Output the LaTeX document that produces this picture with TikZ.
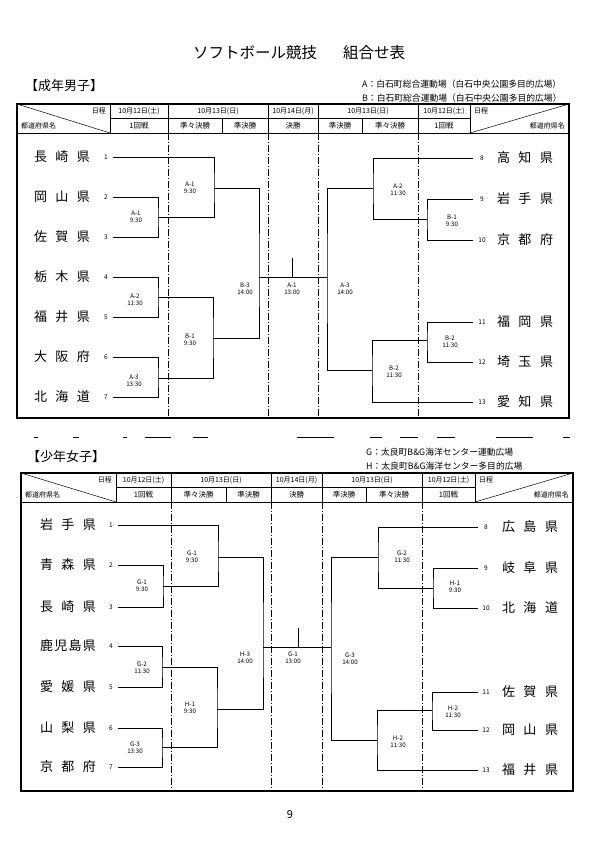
\documentclass[tikz,border=0pt]{standalone}
\usepackage{fontspec}
\setmainfont{Noto Sans CJK JP}
\usetikzlibrary{positioning}
\newcommand\kenmei[1]{\makebox[56pt][s]{#1}}
\begin{document}
\begin{tikzpicture}[x=1pt,y=-1pt,
  team/.style={inner sep=0pt,font=\fontsize{13}{13}\selectfont},
  num/.style={inner sep=0pt,font=\fontsize{6.5}{6.5}\selectfont},
  game/.style={inner sep=0pt,align=center,font=\fontsize{6.2}{7.4}\selectfont},
  head/.style={inner sep=0pt,font=\fontsize{7}{7}\selectfont},
  place/.style={inner sep=0pt,anchor=west,font=\fontsize{8.8}{8.8}\selectfont},
  wire/.style={line width=0.8pt},
  frame/.style={line width=1.1pt},
  sep/.style={line width=0.5pt,dash pattern=on 7pt off 2pt on 1pt off 2pt}
]
\useasboundingbox[fill=white] (0,0) rectangle (595,842);

\node[inner sep=0pt,anchor=west,font=\fontsize{15.5}{15.5}\selectfont] (title) at (193,53)
  {ソフトボール競技\hspace{26pt}組合せ表};

% ---------------- 成年男子 ----------------
\node[inner sep=0pt,anchor=west,font=\fontsize{13}{13}\selectfont] (msec) at (25,86) {【成年男子】};
\node[place] (mA) at (362,84) {A：白石町総合運動場（白石中央公園多目的広場）};
\node[place] (mB) at (362,98) {B：白石町総合運動場（白石中央公園多目的広場）};

\draw[frame] (17,104) rectangle (569,418);
\draw[line width=0.6pt] (17,133) -- (569,133);
\draw[line width=0.6pt] (110,118.5) -- (470,118.5);
\foreach \x in {110,168,268,318,418,470} \draw[line width=0.6pt] (\x,104) -- (\x,133);
\foreach \x in {222,362} \draw[line width=0.6pt] (\x,118.5) -- (\x,133);
\draw[line width=0.5pt] (17,104) -- (110,133);
\draw[line width=0.5pt] (470,133) -- (569,104);
\foreach \x in {168,268,318,418} \draw[sep] (\x,133) -- (\x,418);

\node[head,anchor=east] at (106,111) {日程};
\node[head,anchor=west] at (21,126) {都道府県名};
\node[head,anchor=west] at (474,111) {日程};
\node[head,anchor=east] at (565,126) {都道府県名};
\foreach \x/\d in {139/10月12日(土),218/10月13日(日),293/10月14日(月),368/10月13日(日),444/10月12日(土)}
  \node[head] at (\x,111) {\d};
\foreach \x/\r in {139/1回戦,195/準々決勝,245/準決勝,293/決勝,340/準決勝,390/準々決勝,444/1回戦}
  \node[head,font=\fontsize{7.5}{7.5}\selectfont] at (\x,126) {\r};

\foreach \i/\ken/\yy in {1/長\hfill 崎\hfill 県/157,2/岡\hfill 山\hfill 県/197,3/佐\hfill 賀\hfill 県/237,
    4/栃\hfill 木\hfill 県/277,5/福\hfill 井\hfill 県/317,6/大\hfill 阪\hfill 府/357,7/北\hfill 海\hfill 道/397}{
  \node[team] (mt\i) at (62,\yy) {\kenmei{\ken}};
  \node[num] (mn\i) at (106,\yy) {\i};
  \coordinate (mL\i) at (113,\yy);
}
\foreach \i/\ken/\yy in {8/高\hfill 知\hfill 県/158,9/岩\hfill 手\hfill 県/199,10/京\hfill 都\hfill 府/240,
    11/福\hfill 岡\hfill 県/322,12/埼\hfill 玉\hfill 県/362,13/愛\hfill 知\hfill 県/402}{
  \node[team] (mt\i) at (525,\yy) {\kenmei{\ken}};
  \node[num] (mn\i) at (482,\yy) {\i};
  \coordinate (mR\i) at (473,\yy);
}

\coordinate (ma1) at (158,217);
\coordinate (ma2) at (158,297);
\coordinate (ma3) at (158,378);
\coordinate (mq1) at (214,188);
\coordinate (mq2) at (213,338);
\coordinate (ms1) at (259,277);
\coordinate (ms2) at (327,277);
\coordinate (mf) at (292,258);
\coordinate (mq3) at (373,188);
\coordinate (mq4) at (372,370);
\coordinate (mb1) at (427,219);
\coordinate (mb2) at (427,340);

\draw[wire] (mL2) -| (ma1) |- (mL3);
\draw[wire] (mL4) -| (ma2) |- (mL5);
\draw[wire] (mL6) -| (ma3) |- (mL7);
\draw[wire] (mL1) -| (mq1) |- (ma1);
\draw[wire] (ma2) -| (mq2) |- (ma3);
\draw[wire] (mq1) -| (ms1) |- (mq2);
\draw[wire] (ms1) -- (ms2);
\draw[wire] (mf) -- (mf |- ms1);
\draw[wire] (mq3) -| (ms2) |- (mq4);
\draw[wire] (mR8) -| (mq3) |- (mb1);
\draw[wire] (mR9) -| (mb1) |- (mR10);
\draw[wire] (mR11) -| (mb2) |- (mR12);
\draw[wire] (mb2) -| (mq4) |- (mR13);

\node[game] (gma1) at (136,217) {A-1\\9:30};
\node[game] (gmq1) at (190,188) {A-1\\9:30};
\node[game] (gma2) at (135,300) {A-2\\11:30};
\node[game] (gma3) at (134,381) {A-3\\13:30};
\node[game] (gmq2) at (190,340) {B-1\\9:30};
\node[game] (gms1) at (245,289) {B-3\\14:00};
\node[game] (gmf)  at (292,289) {A-1\\13:00};
\node[game] (gms2) at (345,289) {A-3\\14:00};
\node[game] (gmq3) at (398,190) {A-2\\11:30};
\node[game] (gmb1) at (452,221) {B-1\\9:30};
\node[game] (gmb2) at (450,342) {B-2\\11:30};
\node[game] (gmq4) at (394,372) {B-2\\11:30};

% scanned cut line
\foreach \a/\b in {34/38,73/79,123/127,145/171,193/208,297/334,370/382,400/418,437/455,496/533,563/570}
  \draw[line width=0.9pt] (\a,437) -- (\b,437);

% ---------------- 少年女子 ----------------
\node[inner sep=0pt,anchor=west,font=\fontsize{13}{13}\selectfont] (wsec) at (27,457) {【少年女子】};
\node[place] (wG) at (366,452) {G：太良町B\&G海洋センター運動広場};
\node[place] (wH) at (366,466) {H：太良町B\&G海洋センター多目的広場};

\draw[frame] (21,473) rectangle (573,791);
\draw[line width=0.6pt] (21,502) -- (573,502);
\draw[line width=0.6pt] (116,487.5) -- (475,487.5);
\foreach \x in {116,171,271,322,422,475} \draw[line width=0.6pt] (\x,473) -- (\x,502);
\foreach \x in {226,366} \draw[line width=0.6pt] (\x,487.5) -- (\x,502);
\draw[line width=0.5pt] (21,473) -- (116,502);
\draw[line width=0.5pt] (475,502) -- (573,473);
\foreach \x in {171,271,322,422} \draw[sep] (\x,502) -- (\x,791);

\node[head,anchor=east] at (112,480) {日程};
\node[head,anchor=west] at (25,495) {都道府県名};
\node[head,anchor=west] at (479,480) {日程};
\node[head,anchor=east] at (569,495) {都道府県名};
\foreach \x/\d in {143.5/10月12日(土),221/10月13日(日),296.5/10月14日(月),372/10月13日(日),448.5/10月12日(土)}
  \node[head] at (\x,480) {\d};
\foreach \x/\r in {143.5/1回戦,198.5/準々決勝,248.5/準決勝,296.5/決勝,344/準決勝,394/準々決勝,448.5/1回戦}
  \node[head,font=\fontsize{7.5}{7.5}\selectfont] at (\x,495) {\r};

\foreach \i/\ken/\yy in {1/岩\hfill 手\hfill 県/525,2/青\hfill 森\hfill 県/565,3/長\hfill 崎\hfill 県/607,
    4/鹿\hfill 児\hfill 島\hfill 県/646,5/愛\hfill 媛\hfill 県/687,6/山\hfill 梨\hfill 県/728,7/京\hfill 都\hfill 府/767}{
  \node[team] (wt\i) at (68,\yy) {\kenmei{\ken}};
  \node[num] (wn\i) at (111,\yy) {\i};
  \coordinate (wL\i) at (118,\yy);
}
\foreach \i/\ken/\yy in {8/広\hfill 島\hfill 県/527,9/岐\hfill 阜\hfill 県/568,10/北\hfill 海\hfill 道/608,
    11/佐\hfill 賀\hfill 県/692,12/岡\hfill 山\hfill 県/730,13/福\hfill 井\hfill 県/770}{
  \node[team] (wt\i) at (530,\yy) {\kenmei{\ken}};
  \node[num] (wn\i) at (486,\yy) {\i};
  \coordinate (wR\i) at (478,\yy);
}

\coordinate (wg1) at (163,586);
\coordinate (wg2) at (162,667);
\coordinate (wg3) at (162,747);
\coordinate (wq1) at (218,557);
\coordinate (wq2) at (217,709);
\coordinate (ws1) at (263,647);
\coordinate (ws2) at (331,647);
\coordinate (wf) at (298,628);
\coordinate (wq3) at (378,557);
\coordinate (wq4) at (377,740);
\coordinate (wh1) at (433,588);
\coordinate (wh2) at (432,710);

\draw[wire] (wL2) -| (wg1) |- (wL3);
\draw[wire] (wL4) -| (wg2) |- (wL5);
\draw[wire] (wL6) -| (wg3) |- (wL7);
\draw[wire] (wL1) -| (wq1) |- (wg1);
\draw[wire] (wg2) -| (wq2) |- (wg3);
\draw[wire] (wq1) -| (ws1) |- (wq2);
\draw[wire] (ws1) -- (ws2);
\draw[wire] (wf) -- (wf |- ws1);
\draw[wire] (wq3) -| (ws2) |- (wq4);
\draw[wire] (wR8) -| (wq3) |- (wh1);
\draw[wire] (wR9) -| (wh1) |- (wR10);
\draw[wire] (wR11) -| (wh2) |- (wR12);
\draw[wire] (wh2) -| (wq4) |- (wR13);

\node[game] (gwg1) at (142,586) {G-1\\9:30};
\node[game] (gwq1) at (192,557) {G-1\\9:30};
\node[game] (gwg2) at (142,668) {G-2\\11:30};
\node[game] (gwg3) at (135,748) {G-3\\13:30};
\node[game] (gwq2) at (190,708) {H-1\\9:30};
\node[game] (gws1) at (245,658) {H-3\\14:00};
\node[game] (gwf)  at (293,658) {G-1\\13:00};
\node[game] (gws2) at (350,659) {G-3\\14:00};
\node[game] (gwq3) at (402,557) {G-2\\11:30};
\node[game] (gwh1) at (455,587) {H-1\\9:30};
\node[game] (gwh2) at (453,712) {H-2\\11:30};
\node[game] (gwq4) at (398,742) {H-2\\11:30};

\node[inner sep=0pt,font=\fontsize{11}{11}\selectfont] (page) at (290,815) {9};
\end{tikzpicture}
\end{document}
